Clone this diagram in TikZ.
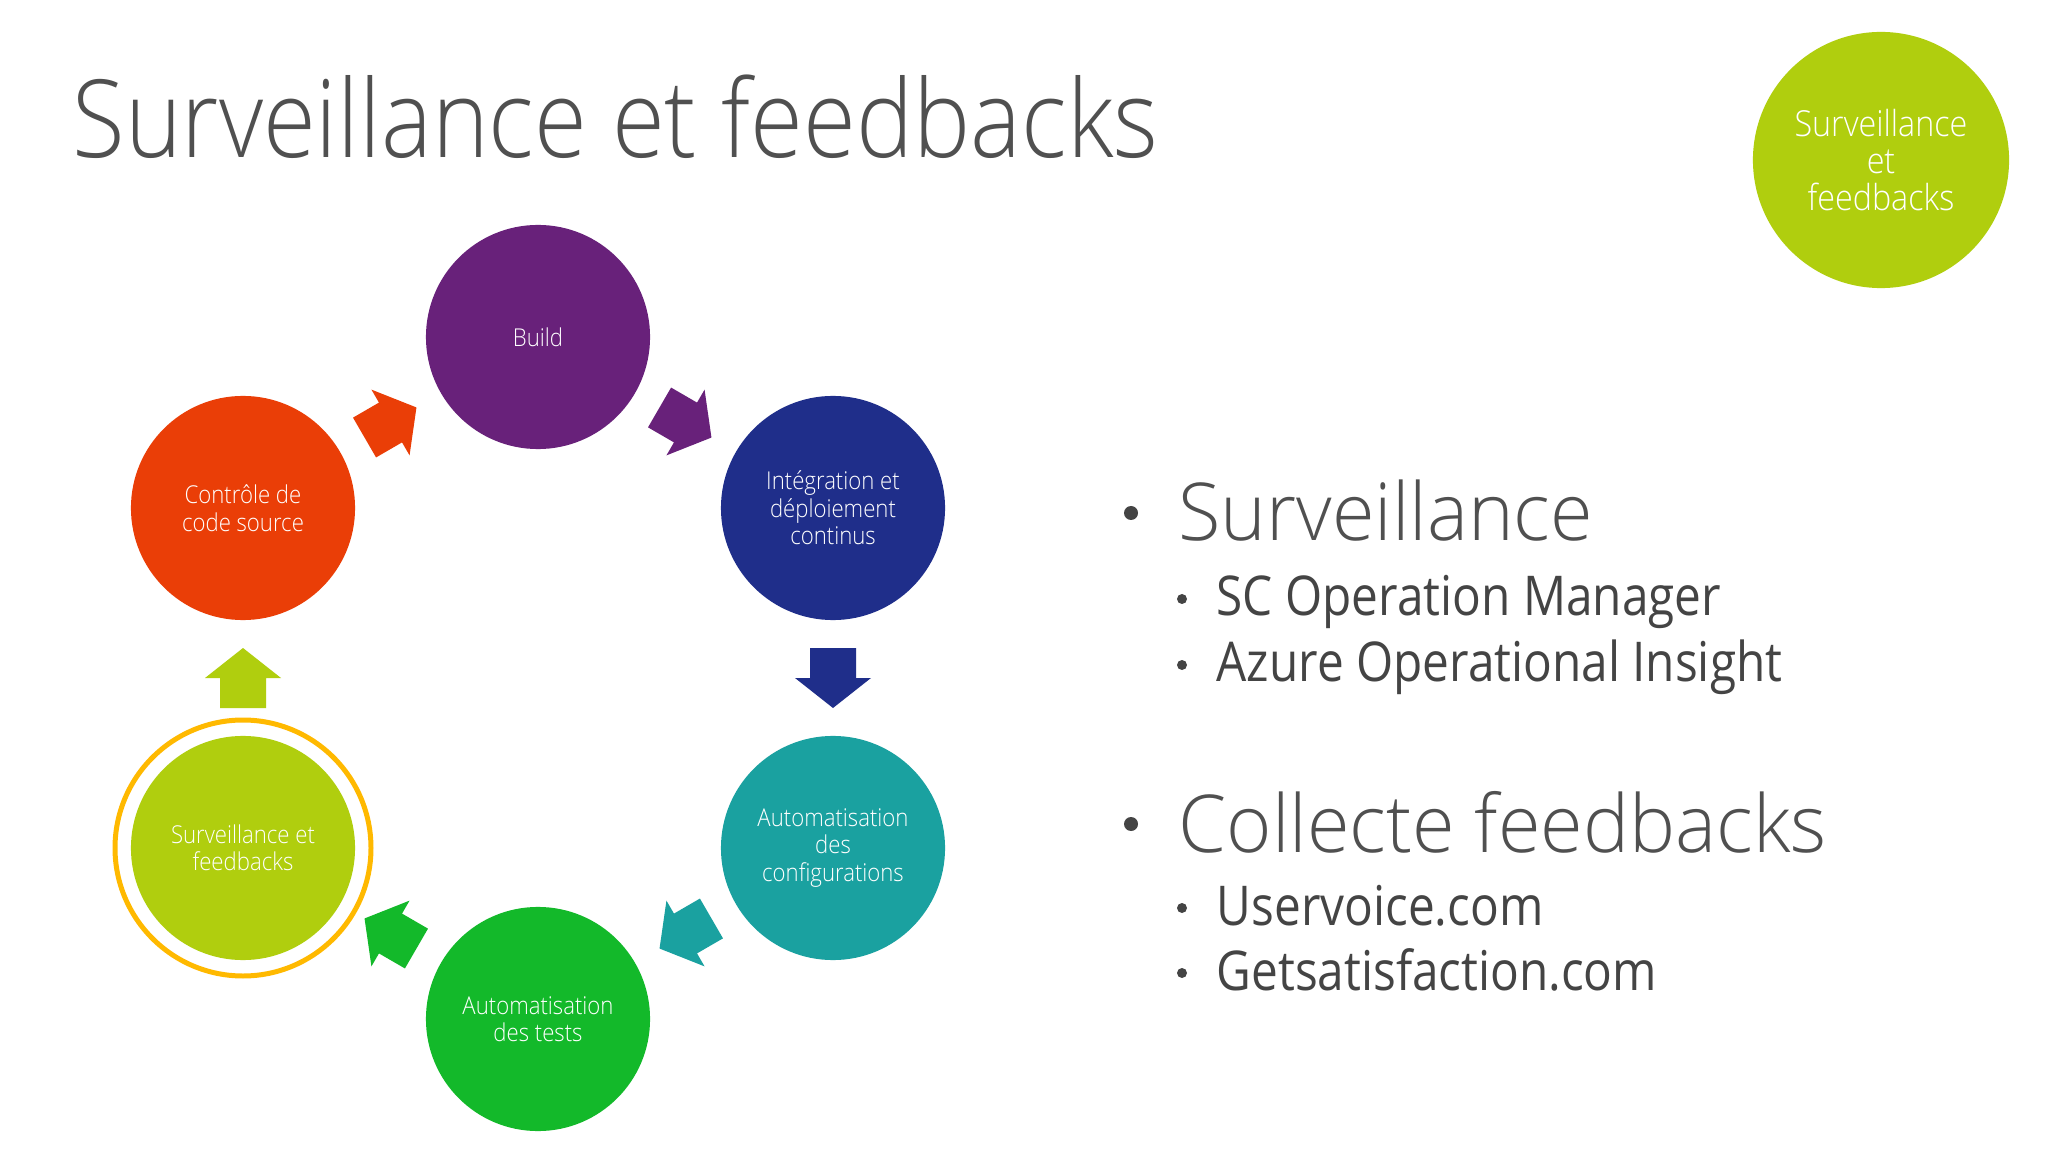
\documentclass[tikz,border=0pt]{standalone}
\usepackage{fontspec}
\setmainfont{Open Sans}
\newfontfamily\slimfont[FakeStretch=0.87]{Open Sans}
\newfontfamily\thinfont[FakeStretch=0.9]{Open Sans Light}
\newfontfamily\titlefont[FakeStretch=0.89]{Open Sans Light}
\newfontfamily\headfont[FakeStretch=0.97]{Open Sans Light}
\usetikzlibrary{calc, positioning}

\definecolor{titlegray}{HTML}{505050}
\definecolor{textgray}{HTML}{444444}
\definecolor{ctrlred}{HTML}{EA3E07}
\definecolor{buildpurple}{HTML}{68217A}
\definecolor{deployblue}{HTML}{1F2E8A}
\definecolor{configteal}{HTML}{1AA1A0}
\definecolor{testgreen}{HTML}{13B92A}
\definecolor{survgreen}{HTML}{B0CE0E}
\definecolor{ringyellow}{HTML}{FFB900}

\begin{document}
\begin{tikzpicture}[
        x=0.01cm, y=-0.01cm,
        phase/.style={circle, minimum size=2.24cm, inner sep=0pt, text=white, align=center, font=\thinfont\fontsize{7}{7.8}\selectfont},
        badge/.style={circle, minimum size=2.56cm, inner sep=0pt, text=white, align=center, font=\thinfont\fontsize{10.2}{10.4}\selectfont},
        heading/.style={anchor=base west, inner sep=0pt, text=titlegray, font=\headfont\fontsize{22.7}{27}\selectfont},
        item/.style={anchor=base west, inner sep=0pt, text=textgray, font=\slimfont\fontsize{15.6}{19}\selectfont},
        blockarrow/.pic={\fill (-30,-23) -- (0,-23) -- (0,-38) -- (30,0) -- (0,38) -- (0,23) -- (-30,23) -- cycle;},
        flow/.style={pos=0.5, sloped, allow upside down}
    ]
        \fill[white] (0,0) rectangle (2048,1152);

        \node[anchor=base west, inner sep=0pt, text=titlegray, font=\titlefont\fontsize{30.7}{36}\selectfont] (title) at (72,158)
            {Surveillance et feedbacks};
        \node[badge, fill=survgreen] (badge) at (1881,160) {Surveillance\\et\\feedbacks};

        \node[phase, fill=buildpurple] (build) at (538,337) {Build};
        \node[phase, fill=deployblue] (deploy) at (833,508) {Intégration et\\déploiement\\continus};
        \node[phase, fill=configteal] (config) at (833,848) {Automatisation\\des\\configurations};
        \node[phase, fill=testgreen] (tests) at (538,1019) {Automatisation\\des tests};
        \node[phase, fill=survgreen] (surv) at (243,848) {Surveillance et\\feedbacks};
        \node[phase, fill=ctrlred] (ctrl) at (243,508) {Contrôle de\\code source};
        \draw[ringyellow, line width=1.42pt] (surv.center) circle (128);

        \path (ctrl) -- (build) pic[flow, color=ctrlred] {blockarrow};
        \path (build) -- (deploy) pic[flow, color=buildpurple] {blockarrow};
        \path (deploy) -- (config) pic[flow, color=deployblue] {blockarrow};
        \path (config) -- (tests) pic[flow, color=configteal] {blockarrow};
        \path (tests) -- (surv) pic[flow, color=testgreen] {blockarrow};
        \path (surv) -- (ctrl) pic[flow, color=survgreen] {blockarrow};

        \node[heading] (watch) at (1178,541) {Surveillance};
        \node[item] (scom) at (1216,616) {SC Operation Manager};
        \node[item] (azure) at (1216,682) {Azure Operational Insight};
        \node[heading] (collect) at (1178,852) {Collecte feedbacks};
        \node[item] (uservoice) at (1216,925) {Uservoice.com};
        \node[item] (getsat) at (1216,990) {Getsatisfaction.com};

        \fill[textgray] ($(watch.base west)+(-47,-28)$) circle (7);
        \fill[textgray] ($(collect.base west)+(-47,-28)$) circle (7);
        \fill[textgray] ($(scom.base west)+(-34,-17)$) circle (5);
        \fill[textgray] ($(azure.base west)+(-34,-17)$) circle (5);
        \fill[textgray] ($(uservoice.base west)+(-34,-17)$) circle (5);
        \fill[textgray] ($(getsat.base west)+(-34,-17)$) circle (5);
    \end{tikzpicture}
\end{document}
